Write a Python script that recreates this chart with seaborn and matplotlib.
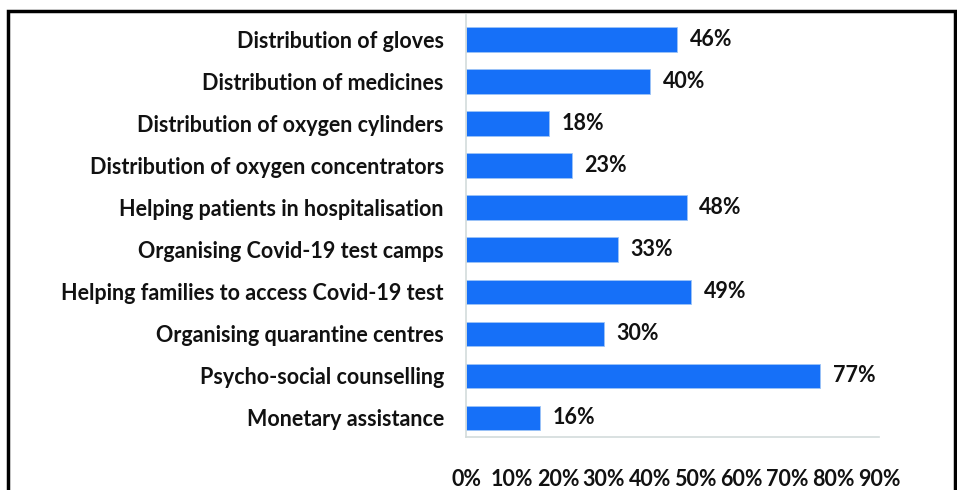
import matplotlib
matplotlib.use("Agg")
import matplotlib.pyplot as plt
import matplotlib.patches as mpatches
import seaborn as sns

# data
activities = [
    "Distribution of gloves",
    "Distribution of medicines",
    "Distribution of oxygen cylinders",
    "Distribution of oxygen concentrators",
    "Helping patients in hospitalisation",
    "Organising Covid-19 test camps",
    "Helping families to access Covid-19 test",
    "Organising quarantine centres",
    "Psycho-social counselling",
    "Monetary assistance",
]
percent = [46, 40, 18, 23, 48, 33, 49, 30, 77, 16]
xticks = [0, 10, 20, 30, 40, 50, 60, 70, 80, 90]
xtick_labels = [f"{t}%" for t in xticks]

sns.set_theme(style="white")
plt.rcParams["font.family"] = ["Lato", "DejaVu Sans"]
plt.rcParams["font.weight"] = "bold"

fig = plt.figure(figsize=(9.57, 4.9), dpi=100)
ax = fig.add_axes([0.487, 0.108, 0.432, 0.861])

bar_color = "#1670f8"
sns.barplot(x=percent, y=activities, orient="h", color=bar_color,
            width=0.58, saturation=1, ax=ax, edgecolor="#9cc4f7", linewidth=0.6)

for i, v in enumerate(percent):
    ax.text(v + 2.8, i, f"{v}%", va="center", ha="left",
            fontsize=15.5, fontweight="bold", color="#111111")

ax.set_xlim(0, 90)
ax.set_ylim(9.46, -0.58)
ax.set_xticks(xticks)
ax.set_xticklabels(xtick_labels, fontsize=15.5, fontweight="bold")
ax.tick_params(axis="x", length=0, pad=23, colors="#111111")
ax.tick_params(axis="y", length=0, pad=16, labelsize=15.5, colors="#111111")
for lab in ax.get_yticklabels():
    lab.set_fontweight("bold")
ax.set_xlabel("")
ax.set_ylabel("")

for side in ["top", "right"]:
    ax.spines[side].set_visible(False)
for side in ["left", "bottom"]:
    ax.spines[side].set_color("#d3dbdb")
    ax.spines[side].set_linewidth(1.2)

# black frame around the chart (open at the bottom edge of the image)
frame = mpatches.Rectangle((8 / 957, -0.2), 947 / 957, 1.2 - 11 / 490,
                           transform=fig.transFigure, fill=False,
                           edgecolor="black", linewidth=2.5, clip_on=False)
fig.add_artist(frame)

fig.savefig("out.png", dpi=100)
